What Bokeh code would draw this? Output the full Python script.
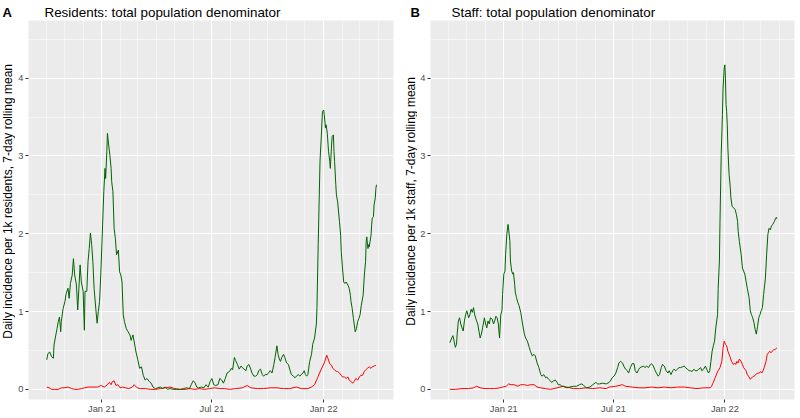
import math
import pandas as pd
from bokeh.plotting import figure
from bokeh.models import FixedTicker, DatetimeTickFormatter, Label, Range1d
from bokeh.layouts import row, column
from bokeh.embed import file_html
from bokeh.resources import INLINE

# ---------------- data ----------------
BASE_DATE = "2021-01-01"          # day offsets below are days since this date
tags = ["A", "B"]
panel_titles = ["Residents: total population denominator", "Staff: total population denominator"]
y_labels = ["Daily incidence per 1k residents, 7-day rolling mean",
            "Daily incidence per 1k staff, 7-day rolling mean"]
x_tick_dates = ["2021-01-01", "2021-07-01", "2022-01-01"]
x_tick_labels = ["Jan 21", "Jul 21", "Jan 22"]
y_ticks = [0, 1, 2, 3, 4]
y_minor_ticks = [0.5, 1.5, 2.5, 3.5, 4.5]
x_limits = ["2020-09-02", "2022-04-26"]
y_limits = [-0.13, 4.74]

res_green_days = [-91,-89,-86,-83,-80,-79,-76,-74,-72,-70,-68,-67,-64,-61,-59,-56,-54,-52,-49,-47,-45,-42,-40,-38,-36,-34,-31,-29,-28,-25,-23,-21,-19,-17,-15,-13,-10,-8,-6,-4,-2,1,3,5,6,8,9,11,13,15,16,18,20,22,24,27,29,31,33,35,37,40,43,46,48,51,54,56,59,62,65,68,71,74,78,81,84,88,92,96,100,104,108,112,118,123,129,134,139,144,147,150,153,156,159,164,168,171,175,178,181,184,187,191,194,197,200,203,206,210,213,215,218,220,223,226,229,231,234,237,239,242,245,247,250,253,256,258,261,264,266,269,272,274,277,280,283,285,288,290,292,294,296,299,301,304,307,309,312,315,318,320,323,326,328,331,333,335,337,339,342,345,347,350,353,354,356,359,361,363,365,366,368,369,371,373,375,376,378,379,381,382,383,385,386,388,391,393,394,396,398,400,402,405,407,409,410,412,414,417,419,421,423,425,427,430,432,434,435,436,437,438,439,440,443,444,445,447,448,450,451,452]
res_green_vals = [0.38,0.46,0.48,0.42,0.40,0.57,0.70,0.78,0.87,0.93,0.74,0.87,1.04,1.13,1.23,1.30,1.17,1.36,1.47,1.68,1.47,1.34,1.02,1.30,1.60,1.38,1.26,0.76,1.26,1.26,1.64,1.81,2.01,1.86,1.64,1.30,1.02,0.85,1.00,1.13,1.47,2.11,2.54,2.84,2.71,3.06,3.29,3.14,3.01,2.84,2.67,2.54,2.07,1.94,1.73,1.79,1.51,1.47,1.38,0.96,0.87,0.78,0.74,0.70,0.63,0.70,0.57,0.48,0.38,0.27,0.29,0.18,0.12,0.14,0.10,0.08,0.03,0.01,0.02,0.03,0.01,0.03,0.00,0.01,0.00,0.00,0.00,0.01,0.02,0.01,0.06,0.11,0.09,0.03,0.02,0.03,0.02,0.06,0.03,0.10,0.14,0.06,0.05,0.06,0.14,0.12,0.08,0.14,0.21,0.23,0.27,0.25,0.41,0.37,0.32,0.26,0.30,0.28,0.26,0.24,0.30,0.32,0.26,0.21,0.17,0.17,0.19,0.24,0.26,0.19,0.17,0.19,0.19,0.21,0.24,0.21,0.32,0.41,0.56,0.45,0.39,0.36,0.41,0.45,0.41,0.34,0.32,0.26,0.19,0.17,0.15,0.17,0.19,0.17,0.19,0.21,0.24,0.19,0.17,0.19,0.36,0.45,0.58,0.66,0.84,1.05,1.86,2.93,3.23,3.57,3.59,3.53,3.36,3.40,3.29,3.06,2.93,2.84,3.14,3.25,3.27,3.06,2.93,2.63,2.50,2.41,2.16,1.98,1.77,1.56,1.38,1.36,1.38,1.34,1.30,1.21,1.13,1.04,0.91,0.74,0.78,0.87,0.91,0.96,1.08,1.21,1.47,1.64,1.90,1.96,1.88,1.81,1.86,1.83,1.98,2.11,2.20,2.22,2.37,2.46,2.58,2.63]

res_red_days = [-91,-87,-83,-78,-72,-67,-61,-56,-50,-45,-40,-34,-29,-23,-18,-13,-7,-2,4,9,12,15,17,20,23,26,30,34,39,44,50,53,58,63,72,80,88,96,104,112,120,129,137,145,153,161,169,177,185,194,202,210,220,231,239,245,256,266,277,288,299,309,320,328,339,345,350,355,361,366,370,372,375,378,380,383,386,388,391,394,396,399,402,405,407,410,413,415,418,421,424,426,429,432,434,437,440,443,445,448,451]
res_red_vals = [0.03,0.02,0.00,0.00,0.00,0.02,0.02,0.03,0.01,0.00,0.00,0.01,0.02,0.03,0.03,0.03,0.03,0.05,0.03,0.06,0.09,0.06,0.10,0.11,0.05,0.06,0.02,0.03,0.02,0.01,0.03,0.06,0.02,0.01,0.01,0.00,0.00,0.01,0.02,0.03,0.01,0.00,0.00,0.01,0.00,0.01,0.00,0.01,0.02,0.01,0.01,0.00,0.01,0.02,0.05,0.02,0.01,0.01,0.02,0.02,0.01,0.01,0.03,0.01,0.01,0.03,0.06,0.15,0.26,0.34,0.44,0.40,0.33,0.31,0.27,0.25,0.23,0.23,0.21,0.18,0.16,0.16,0.14,0.16,0.12,0.10,0.08,0.10,0.14,0.12,0.16,0.18,0.18,0.23,0.25,0.27,0.29,0.27,0.29,0.30,0.31]

staff_green_days = [-89,-86,-84,-82,-80,-78,-77,-75,-73,-71,-69,-67,-65,-63,-61,-58,-56,-54,-52,-50,-48,-45,-43,-41,-39,-37,-35,-32,-30,-28,-26,-24,-22,-19,-17,-15,-13,-11,-9,-7,-5,-3,-2,0,2,3,5,7,8,10,11,13,15,16,18,19,21,23,25,28,31,34,36,39,42,44,47,50,52,55,58,61,63,66,69,71,74,77,79,82,85,88,90,93,96,98,101,104,109,115,120,125,128,131,136,142,147,152,155,158,163,169,174,177,179,182,185,188,190,193,196,198,201,204,206,209,212,215,217,220,223,225,228,231,233,236,239,242,244,247,250,252,255,257,260,262,265,268,271,273,276,279,281,284,287,289,292,295,298,300,303,306,308,311,314,316,319,322,325,327,330,333,335,338,340,342,344,346,348,350,353,354,356,357,359,361,362,364,365,366,367,368,369,370,372,374,375,377,380,382,384,386,387,389,392,394,396,398,400,402,405,407,409,411,413,415,417,419,421,423,425,427,429,432,434,436,438,440,442,444,447,449,450,451]
staff_green_vals = [0.60,0.66,0.69,0.62,0.54,0.58,0.71,0.88,0.92,0.84,0.79,0.75,0.88,0.96,1.01,0.92,0.96,1.03,0.99,1.05,0.96,0.88,0.84,0.75,0.66,0.71,0.79,0.92,0.84,0.79,0.88,0.84,0.92,0.90,0.84,0.88,0.94,0.92,0.84,0.66,0.96,1.01,1.22,1.48,1.52,1.73,1.99,2.12,2.06,1.91,1.65,1.52,1.48,1.50,1.35,1.25,1.18,1.12,1.08,0.99,0.84,0.71,0.66,0.62,0.54,0.49,0.43,0.45,0.43,0.34,0.28,0.19,0.17,0.19,0.15,0.16,0.13,0.11,0.09,0.11,0.12,0.09,0.06,0.06,0.04,0.04,0.03,0.02,0.03,0.04,0.04,0.06,0.07,0.06,0.02,0.03,0.06,0.09,0.07,0.07,0.08,0.07,0.09,0.12,0.15,0.17,0.21,0.28,0.34,0.36,0.34,0.30,0.26,0.24,0.21,0.28,0.33,0.33,0.24,0.21,0.26,0.28,0.29,0.30,0.28,0.30,0.28,0.32,0.33,0.30,0.24,0.21,0.17,0.19,0.28,0.32,0.30,0.24,0.21,0.24,0.19,0.24,0.26,0.24,0.26,0.28,0.28,0.29,0.30,0.28,0.26,0.24,0.24,0.23,0.26,0.24,0.24,0.26,0.28,0.24,0.26,0.30,0.26,0.21,0.24,0.36,0.49,0.56,0.62,0.79,0.96,1.30,1.65,2.16,3.02,3.53,3.87,4.13,4.17,4.00,3.66,3.57,3.40,3.10,2.76,2.59,2.46,2.35,2.33,2.31,2.25,2.16,2.03,1.90,1.73,1.56,1.52,1.48,1.39,1.30,1.18,1.01,0.96,0.92,0.86,0.77,0.71,0.81,0.92,0.96,1.01,1.05,1.22,1.43,1.73,1.99,2.07,2.05,2.10,2.12,2.16,2.20,2.21,2.19]

staff_red_days = [-89,-80,-69,-58,-50,-45,-39,-31,-23,-15,-7,-2,4,8,12,17,23,28,34,39,44,50,55,61,69,77,88,98,104,115,125,136,147,158,169,174,185,196,201,212,223,233,244,255,265,276,287,298,308,319,330,341,343,346,349,352,354,357,360,362,364,366,368,370,372,374,376,379,381,383,385,387,389,392,394,396,398,400,402,404,407,409,411,413,415,417,420,422,424,426,428,430,433,435,437,439,441,443,446,448,450,451]
staff_red_vals = [0.00,0.00,0.01,0.01,0.02,0.04,0.02,0.01,0.01,0.01,0.02,0.03,0.04,0.07,0.06,0.06,0.04,0.06,0.06,0.05,0.06,0.06,0.03,0.02,0.01,0.00,0.02,0.04,0.03,0.01,0.01,0.02,0.01,0.02,0.01,0.03,0.04,0.06,0.04,0.03,0.02,0.02,0.03,0.02,0.03,0.02,0.03,0.03,0.02,0.01,0.02,0.02,0.04,0.09,0.15,0.21,0.24,0.28,0.36,0.53,0.62,0.58,0.56,0.49,0.45,0.41,0.36,0.32,0.34,0.32,0.36,0.34,0.39,0.36,0.32,0.28,0.26,0.24,0.19,0.17,0.13,0.15,0.16,0.17,0.18,0.20,0.21,0.21,0.23,0.21,0.24,0.28,0.36,0.45,0.47,0.49,0.47,0.49,0.51,0.51,0.53,0.53]

GREEN = "#006400"
RED = "#FF0000"
FONT = "Liberation Sans"

HEAD_H = 20      # header strip (tag + title)
PLOT_H = 396     # panel figure height
LEFT_W = [15, 18]   # strips holding the rotated y-axis titles
LABEL_X = [7.5, 11]  # centre of the rotated y-axis title inside its strip
PANEL_W = [384, 381]
HEAD_W = [399, 399]


def to_dates(days):
    return pd.Timestamp(BASE_DATE) + pd.to_timedelta(days, unit="D")


def ms(d):
    return pd.Timestamp(d).value // 10**6


x_start, x_end = ms(x_limits[0]), ms(x_limits[1])
major_x = [ms(d) for d in x_tick_dates]
minor_x = [ms(d) for d in pd.date_range("2020-09-01", "2022-05-01", freq="MS")]


def blank(width, height):
    """A figure used only as a pixel canvas for text."""
    f = figure(width=width, height=height, output_backend="svg", toolbar_location=None,
               x_range=Range1d(0, width), y_range=Range1d(0, height),
               x_axis_location=None, y_axis_location=None, min_border=0)
    f.min_border_left = f.min_border_right = f.min_border_top = f.min_border_bottom = 0
    f.title.visible = False
    f.grid.visible = False
    f.outline_line_color = None
    f.background_fill_color = "white"
    f.border_fill_color = "white"
    return f


def make_header(width, tag, title, tag_x, title_x):
    h = blank(width, HEAD_H)
    h.add_layout(Label(x=tag_x, y=8, text=tag, text_font=FONT, text_font_size="13px",
                       text_font_style="bold", text_baseline="alphabetic", text_color="black"))
    h.add_layout(Label(x=title_x, y=8, text=title, text_font=FONT, text_font_size="13.4px",
                       text_baseline="alphabetic", text_color="black"))
    return h


def make_ylab(width, text, cx):
    s = blank(width, PLOT_H)
    s.add_layout(Label(x=cx, y=PLOT_H - 189, angle=math.pi / 2, text=text,
                       text_font=FONT, text_font_size="12px", text_align="center",
                       text_baseline="middle", text_color="black"))
    return s


def make_panel(width, red, green, mbl, mbr):
    p = figure(width=width, height=PLOT_H, x_axis_type="datetime",
               output_backend="svg", toolbar_location=None,
               x_range=Range1d(x_start, x_end), y_range=Range1d(*y_limits),
               min_border_top=0, min_border_left=mbl, min_border_bottom=0,
               min_border_right=mbr)
    p.title.visible = False
    p.background_fill_color = "#EBEBEB"
    p.border_fill_color = "white"
    p.outline_line_color = None

    p.xaxis.ticker = FixedTicker(ticks=major_x, minor_ticks=minor_x)
    p.xaxis.formatter = DatetimeTickFormatter(
        years="%b %y", months="%b %y", days="%b %y", hours="%b %y",
        hourmin="%b %y", minutes="%b %y", minsec="%b %y", seconds="%b %y",
        milliseconds="%b %y", microseconds="%b %y")
    p.yaxis.ticker = FixedTicker(ticks=y_ticks, minor_ticks=y_minor_ticks)

    for ax in (p.xaxis[0], p.yaxis[0]):
        ax.axis_line_color = None
        ax.major_tick_line_color = "#333333"
        ax.major_tick_in = 0
        ax.major_tick_out = 3
        ax.minor_tick_line_color = None
        ax.major_label_text_font = FONT
        ax.major_label_text_font_size = "9.3px"
        ax.major_label_text_color = "#4D4D4D"
    p.yaxis.major_label_standoff = 1
    p.xaxis.major_label_standoff = 0

    for g in (p.xgrid[0], p.ygrid[0]):
        g.grid_line_color = "white"
        g.grid_line_width = 1
        g.minor_grid_line_color = "white"
        g.minor_grid_line_width = 0.5

    p.line(x=to_dates(red[0]), y=red[1], line_color=RED, line_width=1)
    p.line(x=to_dates(green[0]), y=green[1], line_color=GREEN, line_width=1)
    return p


hA = make_header(HEAD_W[0], tags[0], panel_titles[0], 2, 44)
hB = make_header(HEAD_W[1], tags[1], panel_titles[1], 11, 52)
lA = make_ylab(LEFT_W[0], y_labels[0], LABEL_X[0])
lB = make_ylab(LEFT_W[1], y_labels[1], LABEL_X[1])
pA = make_panel(PANEL_W[0], (res_red_days, res_red_vals), (res_green_days, res_green_vals), 8, 6)
pB = make_panel(PANEL_W[1], (staff_red_days, staff_red_vals), (staff_green_days, staff_green_vals), 11, 4)

layout = column(row(hA, hB), row(lA, pA, lB, pB))
open("out.html", "w").write(file_html(layout, INLINE))
